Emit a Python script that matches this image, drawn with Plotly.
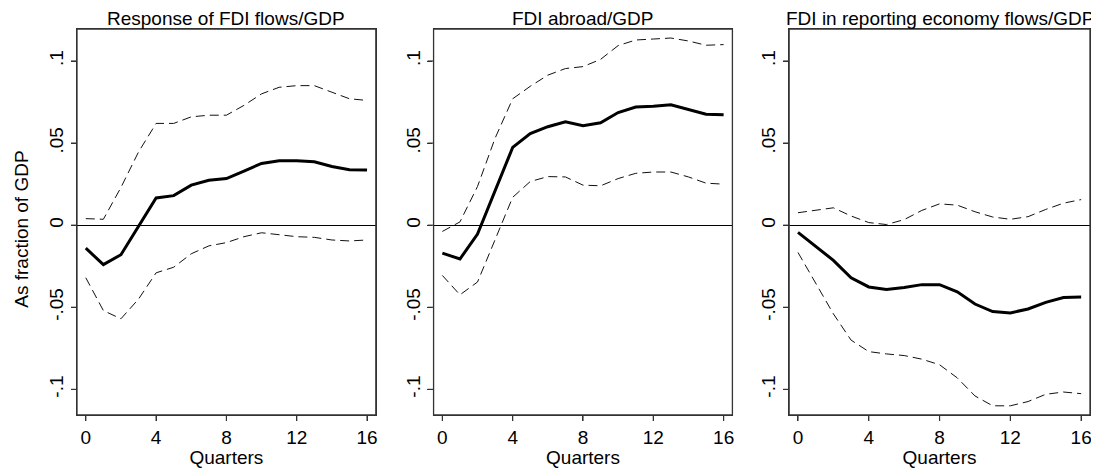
import plotly.graph_objects as go

quarters = list(range(17))

# Response of FDI flows/GDP
p1_irf = [-0.014, -0.024, -0.018, -0.001, 0.0166, 0.018, 0.0244, 0.0274, 0.0284,
          0.033, 0.0376, 0.0392, 0.0392, 0.0386, 0.0358, 0.0338, 0.0336]
p1_upper = [0.004, 0.0036, 0.023, 0.0446, 0.062, 0.062, 0.066, 0.067, 0.067,
            0.073, 0.080, 0.084, 0.085, 0.085, 0.081, 0.077, 0.076]
p1_lower = [-0.032, -0.052, -0.057, -0.045, -0.029, -0.0256, -0.0174, -0.0126, -0.0106,
            -0.007, -0.0046, -0.0058, -0.007, -0.0074, -0.009, -0.0096, -0.009]

# FDI abroad/GDP
p2_irf = [-0.017, -0.0206, -0.0054, 0.021, 0.0474, 0.0558, 0.060, 0.063, 0.0606,
          0.0624, 0.0686, 0.072, 0.0724, 0.0734, 0.0706, 0.0676, 0.0672]
p2_upper = [-0.0038, 0.002, 0.0236, 0.053, 0.077, 0.0846, 0.0914, 0.0954, 0.0966,
            0.101, 0.1094, 0.1128, 0.1134, 0.114, 0.1122, 0.1096, 0.110]
p2_lower = [-0.0306, -0.0424, -0.0346, -0.009, 0.017, 0.0266, 0.0296, 0.0294, 0.0244,
            0.024, 0.0284, 0.0316, 0.0324, 0.0324, 0.0294, 0.0256, 0.025]

# FDI in reporting economy flows/GDP
p3_irf = [-0.0044, -0.013, -0.0214, -0.032, -0.0376, -0.0392, -0.038, -0.0362, -0.0362,
          -0.0406, -0.048, -0.0526, -0.0534, -0.051, -0.047, -0.044, -0.0438]
p3_upper = [0.0076, 0.009, 0.0106, 0.0056, 0.0016, 0.0004, 0.0034, 0.009, 0.013,
            0.0122, 0.0082, 0.005, 0.0036, 0.0052, 0.0096, 0.0134, 0.0156]
p3_lower = [-0.0166, -0.035, -0.054, -0.070, -0.077, -0.0784, -0.0794, -0.0816, -0.085,
            -0.093, -0.104, -0.110, -0.110, -0.1074, -0.103, -0.1016, -0.1026]

panel_titles = ["Response of FDI flows/GDP", "FDI abroad/GDP",
                "FDI in reporting economy flows/GDP"]
x_ticks = [0, 4, 8, 12, 16]
y_ticks = [-0.1, -0.05, 0, 0.05, 0.1]
y_ticktext = ["-.1", "-.05", "0", ".05", ".1"]

FONT = "Liberation Sans, Arial, sans-serif"
TXT = {"size": 19, "color": "black", "family": FONT}
FRAME = "#333333"

# the page body adds an 8px margin, so the figure is 8px smaller than the window
W, H = 1091, 460
MARGIN = {"l": 69, "r": 7, "t": 21, "b": 47}
plot_w = W - MARGIN["l"] - MARGIN["r"]
plot_h = H - MARGIN["t"] - MARGIN["b"]
TICK_PX = 6

panels = [(p1_irf, p1_upper, p1_lower), (p2_irf, p2_upper, p2_lower),
          (p3_irf, p3_upper, p3_lower)]
domains = [[0.0, 0.295], [0.352, 0.647], [0.703, 1.0]]

fig = go.Figure()

layout_axes = {}
for i, (irf, upper, lower) in enumerate(panels, start=1):
    xa = "x" if i == 1 else f"x{i}"
    ya = "y" if i == 1 else f"y{i}"
    dom = domains[i - 1]
    for band in (upper, lower):
        fig.add_trace(go.Scatter(
            x=quarters, y=band, mode="lines", xaxis=xa, yaxis=ya,
            line={"color": "#111111", "width": 1, "dash": "9px,5px"},
            showlegend=False, hoverinfo="skip",
        ))
    fig.add_trace(go.Scatter(
        x=quarters, y=irf, mode="lines", xaxis=xa, yaxis=ya,
        line={"color": "black", "width": 3}, showlegend=False,
    ))

    common = dict(
        showline=True, linecolor=FRAME, linewidth=1.3, mirror=True,
        ticks="outside", ticklen=5, tickwidth=1, tickcolor=FRAME,
        showgrid=False, tickfont=TXT,
    )
    layout_axes["xaxis" if i == 1 else f"xaxis{i}"] = dict(
        domain=dom, range=[-0.5, 16.5], anchor=ya,
        tickvals=x_ticks, zeroline=False,
        title={"text": "Quarters", "standoff": 0, "font": TXT},
        **common,
    )
    layout_axes["yaxis" if i == 1 else f"yaxis{i}"] = dict(
        domain=[0, 1], range=[-0.1156, 0.1195], anchor=xa,
        tickvals=y_ticks, ticktext=y_ticktext, tickangle=-90,
        zeroline=True, zerolinecolor="black", zerolinewidth=1.3,
        **common,
    )

    # panel frame and tick marks as shapes (axis lines do not always render)
    fig.add_shape(
        type="rect", xref=f"{xa} domain", yref=f"{ya} domain",
        x0=0, x1=1, y0=0, y1=1,
        line={"color": FRAME, "width": 1.3}, layer="above",
    )
    for t in x_ticks:
        fig.add_shape(
            type="line", xref=xa, yref=f"{ya} domain",
            x0=t, x1=t, y0=0, y1=-TICK_PX / plot_h,
            line={"color": FRAME, "width": 1.2},
        )
    panel_w = (dom[1] - dom[0]) * plot_w
    for t in y_ticks:
        fig.add_shape(
            type="line", xref=f"{xa} domain", yref=ya,
            x0=0, x1=-TICK_PX / panel_w, y0=t, y1=t,
            line={"color": FRAME, "width": 1.2},
        )

# panel titles
for i, title in enumerate(panel_titles):
    d = domains[i]
    fig.add_annotation(
        text=title, xref="paper", yref="paper",
        x=(d[0] + d[1]) / 2, y=1, xanchor="center", yanchor="bottom",
        yshift=-2, showarrow=False, font=TXT,
    )

fig.add_annotation(
    text="As fraction of GDP", xref="paper", yref="paper",
    x=-0.0545, y=0.482, xanchor="center", yanchor="middle",
    textangle=-90, showarrow=False, font=TXT,
)

fig.update_layout(
    width=W, height=H, margin=MARGIN,
    paper_bgcolor="white", plot_bgcolor="white",
    font=TXT,
    **layout_axes,
)

fig.write_html("out.html")
